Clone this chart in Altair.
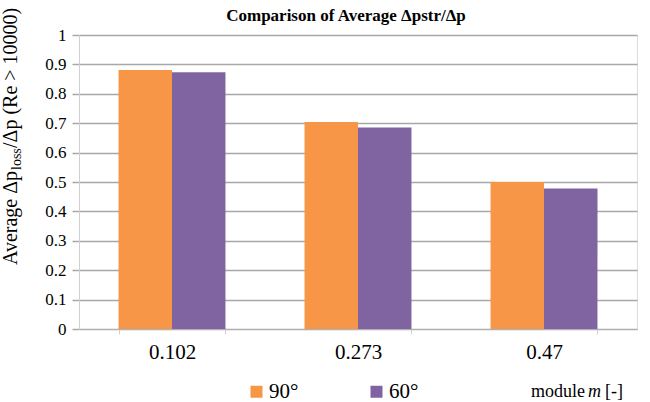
import altair as alt
import pandas as pd

# Module values along the x axis and the two angle series
modules = ["0.102", "0.273", "0.47"]
angles = ["90°", "60°"]
avg_90 = [0.881, 0.704, 0.500]
avg_60 = [0.873, 0.685, 0.478]
colors = ["#F79646", "#8064A2"]

rows = []
for m, a, b in zip(modules, avg_90, avg_60):
    rows.append({"module": m, "angle": angles[0], "value": a})
    rows.append({"module": m, "angle": angles[1], "value": b})
df = pd.DataFrame(rows)

FONT = "Liberation Serif"
W, H = 558, 294

bars = alt.Chart(df).mark_bar().encode(
    x=alt.X(
        "module:N",
        sort=modules,
        scale=alt.Scale(paddingInner=0.425, paddingOuter=0.2125),
        axis=alt.Axis(
            title=None,
            labelAngle=0,
            labelFontSize=21,
            labelFont=FONT,
            labelColor="black",
            labelPadding=7,
            tickBand="extent",
            tickSize=5,
            tickColor="#d0d0d0",
            domainColor="#b0b0b0",
            domainWidth=1,
            grid=False,
        ),
    ),
    xOffset=alt.XOffset("angle:N", sort=angles),
    y=alt.Y(
        "value:Q",
        scale=alt.Scale(domain=[0, 1], nice=False),
        axis=alt.Axis(
            title=None,
            values=[i / 10 for i in range(11)],
            format="~g",
            labelFontSize=17,
            labelFont=FONT,
            labelColor="black",
            labelPadding=6,
            tickSize=7,
            tickColor="#a8a8a8",
            tickWidth=1.5,
            domainColor="#d0d0d0",
            gridColor="#a8a8a8",
            gridWidth=1.5,
        ),
    ),
    color=alt.Color(
        "angle:N",
        sort=angles,
        scale=alt.Scale(domain=angles, range=colors),
        legend=alt.Legend(
            title=None,
            orient="none",
            direction="horizontal",
            legendX=167,
            legendY=346,
            symbolType="square",
            symbolSize=144,
            symbolStrokeWidth=0,
            symbolOpacity=1,
            labelFont=FONT,
            labelFontSize=21,
            labelColor="black",
            labelOffset=2,
            columnPadding=67,
            padding=0,
        ),
    ),
)

one = pd.DataFrame({"k": [0]})


def label(text, x, y, size, **kw):
    return alt.Chart(one).mark_text(
        text=text, font=FONT, fontSize=size, color="black",
        align="left", baseline="alphabetic", **kw
    ).encode(x=alt.value(x), y=alt.value(y))


title = alt.Chart(one).mark_text(
    text="Comparison of Average Δpstr/Δp", font=FONT, fontSize=17,
    fontWeight="bold", color="black", align="center", baseline="alphabetic",
).encode(x=alt.value(267), y=alt.value(-14))

# Rotated y-axis title with a subscript in the middle
ytitle = [
    label("Average Δp", -62, 230, 20, angle=270),
    label("loss", -58, 135, 14, angle=270),
    label("/Δp (Re > 10000)", -62, 113, 20, angle=270),
]

# x-axis title placed at the right, with an italic symbol
xtitle = [
    label("module", 452, 362, 18),
    label("m", 509, 362, 18, fontStyle="italic"),
    label("[-]", 526, 362, 18),
]

chart = alt.layer(bars, title, *ytitle, *xtitle).properties(
    width=W,
    height=H,
    autosize=alt.AutoSizeParams(type="none"),
    padding={"left": 79, "top": 35, "right": 13, "bottom": 73},
).configure_view(stroke=None).configure(background="white")

chart.save("out.html", embed_options={"renderer": "svg", "actions": False})
